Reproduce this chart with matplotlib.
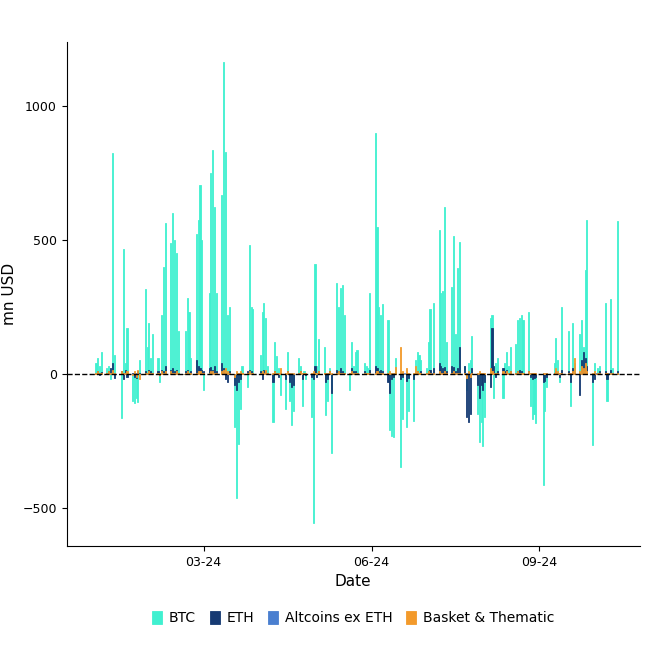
import matplotlib.pyplot as plt
import matplotlib.dates as mdates
import numpy as np
import pandas as pd

# weekly values Mon..Fri, mn USD, weeks starting 2024-01-01
btc_weeks = [
    [0, 40, 60, 30, 80],
    [20, 30, -20, 825, 70],
    [0, -165, 466, 40, 170],
    [-100, -110, -90, -105, 50],
    [317, 100, 190, 60, 150],
    [60, -30, 220, 400, 563],
    [488, 600, 500, 452, 160],
    [0, 160, 283, 230, 60],
    [520, 574, 705, 500, -60],
    [300, 750, 836, 623, 302],
    [668, 1164, 828, 220, 250],
    [-200, -463, -260, -130, 30],
    [-50, 480, 250, 240, 0],
    [70, 230, 265, 210, 30],
    [-180, 120, 65, 20, -80],
    [-130, 80, -100, -190, -140],
    [60, 30, -120, 10, -20],
    [-160, -556, 410, 30, 130],
    [100, -153, -100, 20, -295],
    [340, 250, 320, 330, 220],
    [-60, 120, 30, 80, 90],
    [0, 40, 30, 20, 300],
    [900, 548, 250, 220, 260],
    [200, -210, -230, -235, 60],
    [-347, -170, 0, -200, -140],
    [-175, 50, 80, 70, 50],
    [20, 120, 240, 0, 265],
    [537, 300, 310, 623, 120],
    [325, 514, 150, 396, 492],
    [30, -60, 40, 50, 140],
    [-150, -253, -180, -270, -160],
    [210, 220, -90, 40, 60],
    [-90, 40, 80, 30, 100],
    [110, 200, 210, 220, 200],
    [231, -120, -170, -150, -183],
    [0, -414, -140, -50, 0],
    [40, 134, 50, -30, 250],
    [0, 160, -120, 190, 40],
    [150, 200, 100, 388, 574],
    [-265, 40, 0, 20, 30],
    [265, -100, 0, 280, 20],
    [570, 0, 0, 0, 0],
]
eth_weeks = [
    [0, 5, 10, -5, 8],
    [5, 10, 20, 40, -15],
    [0, 10, -20, 15, -10],
    [5, -10, -15, 10, 5],
    [10, 5, 15, 10, 5],
    [10, -5, 15, 10, 30],
    [15, 20, 10, 15, 5],
    [0, 10, 15, 5, 10],
    [50, 30, 20, 15, 10],
    [20, 25, 15, 30, 10],
    [40, 20, -20, -30, 10],
    [-40, -60, -30, -20, 5],
    [10, 15, 10, 5, 0],
    [10, -20, 15, 10, 5],
    [-30, 10, 5, -10, 5],
    [-20, 10, -30, -50, -40],
    [5, 10, -20, 5, -5],
    [-10, -20, 30, -10, 10],
    [5, -30, -20, 10, -70],
    [15, 10, 20, 10, 5],
    [5, 20, 10, 10, 5],
    [0, 10, 5, 5, 15],
    [30, 20, 10, 15, 10],
    [-30, -70, -20, -10, 5],
    [-20, -10, 0, -25, -15],
    [-20, 5, 10, 5, 10],
    [5, 10, 15, 0, 20],
    [40, 30, 20, 25, 10],
    [30, 25, 10, 20, 100],
    [30, -160, -180, -150, 20],
    [-40, -90, -40, -60, -30],
    [-50, 170, 30, -10, 10],
    [20, 10, 15, 5, 10],
    [5, 10, 15, 10, 5],
    [10, -10, -20, -15, -10],
    [0, -30, -25, -10, 0],
    [5, 10, 5, -10, 15],
    [0, 10, -30, 20, 5],
    [-80, 50, 80, 60, 30],
    [-30, -20, 0, 5, 10],
    [10, -20, 0, 15, 5],
    [10, 0, 0, 0, 0],
]
alt_weeks = [[0, 2, 3, 2, 1]] * 42
basket_weeks = [
    [0, 5, 10, 5, 5], [5, 10, 5, 15, 5], [0, 10, 5, 5, 10], [-5, 10, -10, 15, -20],
    [5, 5, 10, 5, 5], [5, -5, 10, 5, 10], [10, 5, 5, 10, 5], [0, 5, 10, 5, 5],
    [5, 10, 10, 5, 5], [5, 10, 10, 5, 5], [10, 15, 20, 10, 5], [-10, 10, 5, 10, 5],
    [5, 10, 5, 5, 0], [5, 10, 5, 15, 5], [5, 10, 5, 5, 20], [5, 10, 5, 5, 5],
    [5, 10, 5, 5, 5], [5, 10, 5, 5, 10], [5, 5, 5, 10, 5], [5, 10, 5, 5, 5],
    [5, 10, 5, 5, 5], [0, 5, 5, 5, 5], [5, 10, 5, 5, 5], [5, 10, 5, 5, 25],
    [100, 10, 0, 20, 5], [5, 30, 10, 5, 5], [5, 10, 5, 0, 5], [10, 5, 5, 10, 5],
    [5, 10, 5, 5, 5], [5, -15, 10, -10, 5], [5, 10, 5, 5, 5], [20, 10, 5, 5, 5],
    [10, 5, 10, 5, 10], [5, 10, 5, 5, 5], [10, 5, 5, 5, 5], [0, 5, 5, 5, 0],
    [5, 20, 10, 5, 5], [0, 5, 5, 10, 60], [10, 30, 20, 40, 10], [5, 10, 0, 5, 5],
    [5, 5, 0, 5, 5], [5, 0, 0, 0, 0],
]

dates = pd.bdate_range("2024-01-01", periods=42 * 5)
btc = np.concatenate(btc_weeks)
eth = np.concatenate(eth_weeks)
alt = np.concatenate(alt_weeks)
basket = np.concatenate(basket_weeks)
keep = dates <= pd.Timestamp("2024-10-14")

fig, ax = plt.subplots(figsize=(6.61, 6.61), dpi=100)
fig.subplots_adjust(left=0.101, right=0.968, top=0.937, bottom=0.174)

w = 0.6
series = [(btc, "#40f0d0", "BTC"), (eth, "#163a73", "ETH"),
          (alt, "#4a7fd0", "Altcoins ex ETH"), (basket, "#f39a2b", "Basket & Thematic")]
for vals, col, lab in series:
    ax.bar(dates[keep], vals[keep], width=w, color=col, edgecolor=col, linewidth=0.6, label=lab)
ax.axhline(0, color="black", linestyle="--", linewidth=1)

ax.set_xlim(pd.Timestamp("2023-12-17"), pd.Timestamp("2024-10-26"))
ax.set_ylim(-642, 1239)
ax.set_yticks([-500, 0, 500, 1000])
ax.xaxis.set_major_locator(mdates.MonthLocator(bymonth=[3, 6, 9]))
ax.xaxis.set_major_formatter(mdates.DateFormatter("%m-%y"))
ax.set_xlabel("Date", fontsize=11)
ax.set_ylabel("mn USD", fontsize=11)
ax.tick_params(labelsize=9, colors="black")
for s in ["top", "right"]:
    ax.spines[s].set_visible(False)

ax.legend(loc="upper center", bbox_to_anchor=(0.5, -0.105), ncol=4, frameon=False,
          fontsize=10, handlelength=0.7, handleheight=1.0, columnspacing=1.0, handletextpad=0.5)

fig.savefig("out.png")
